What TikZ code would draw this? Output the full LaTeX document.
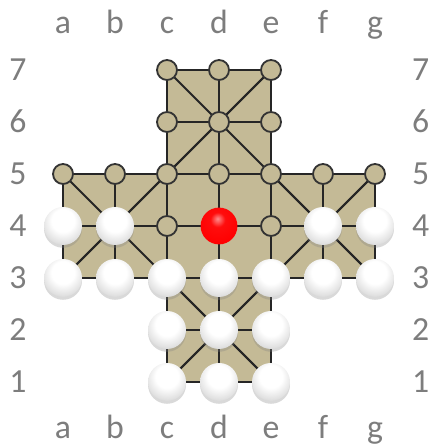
\documentclass[tikz,border=0pt]{standalone}
\usepackage{fontspec}
\newfontfamily\boardfont{Carlito}
\usetikzlibrary{shadows}
\definecolor{BoardTan}{RGB}{196,186,150}
\definecolor{LabelGray}{RGB}{125,125,125}
\pgfdeclareradialshading{pearlshade}{\pgfpoint{0bp}{9bp}}{color(0bp)=(white); color(15bp)=(white); color(28bp)=(black!12); color(40bp)=(black!30); color(50bp)=(black!48); color(70bp)=(black!58)}
\pgfdeclareradialshading{redshade}{\pgfpoint{-2bp}{10bp}}{color(0bp)=(red!45!white); color(10bp)=(red!95!white); color(30bp)=(red); color(46bp)=(red!85!black); color(56bp)=(red!65!black); color(70bp)=(red!55!black)}

\begin{document}
\begin{tikzpicture}[x=1.3cm,y=1.3cm,
    every node/.style={font=\boardfont\fontsize{24}{26}\selectfont,text=LabelGray,anchor=base},
    boardline/.style={line width=1.4pt,draw=black!85},
    hole/.style={circle,anchor=center,draw=black!80,line width=1.3pt,fill=BoardTan,minimum size=0.5cm,inner sep=0pt},
    pearl/.style={circle,anchor=center,shading=pearlshade,minimum size=0.95cm,inner sep=0pt,
        drop shadow={shadow xshift=0pt,shadow yshift=-2pt,opacity=0.3}},
    redpearl/.style={circle,anchor=center,shading=redshade,minimum size=0.92cm,inner sep=0pt}]
    \useasboundingbox (-0.212,-0.212) rectangle (8.173,8.346);
    % points of the board
    \foreach \c [count=\i] in {a,b,c,d,e,f,g}
        \foreach \r in {3,4,5}
            \coordinate (\c\r) at (\i,\r);
    \foreach \c/\i in {c/3,d/4,e/5}
        \foreach \r in {1,2,6,7}
            \coordinate (\c\r) at (\i,\r);
    % board
    \fill[BoardTan] (a3) -- (c3) -- (c1) -- (e1) -- (e3) -- (g3) -- (g5) -- (e5) -- (e7) -- (c7) -- (c5) -- (a5) -- cycle;
    \foreach \r in {3,4,5}
        \draw[boardline] (a\r) -- (g\r);
    \foreach \r in {1,2,6,7}
        \draw[boardline] (c\r) -- (e\r);
    \foreach \c in {c,d,e}
        \draw[boardline] (\c1) -- (\c7);
    \foreach \c in {a,b,f,g}
        \draw[boardline] (\c3) -- (\c5);
    % diagonals
    \foreach \p/\q in {c7/g3,e7/a3,a5/e1,g5/c1,c5/e7,c3/e1,e3/c1,c5/a3,e5/g3,e3/g5}
        \draw[boardline] (\p) -- (\q);
    % empty points
    \foreach \p in {c7,d7,e7,c6,d6,e6,a5,b5,c5,d5,e5,f5,g5,c4,e4}
        \node[hole] (h\p) at (\p) {};
    % pieces
    \foreach \p in {a4,b4,f4,g4,a3,b3,c3,d3,e3,f3,g3,c2,d2,e2,c1,d1,e1}
        \node[pearl] (m\p) at (\p) {};
    \node[redpearl] (md4) at (d4) {};
    % labels
    \foreach \c [count=\i] in {a,b,c,d,e,f,g} {
        \node (top\c) at (\i,7.71) {\c};
        \node (bot\c) at (\i,-0.08) {\c};
    }
    \foreach \r in {1,...,7} {
        \node (left\r) at (0.135,\r-0.2) {\r};
        \node (right\r) at (7.88,\r-0.2) {\r};
    }
\end{tikzpicture}
\end{document}
